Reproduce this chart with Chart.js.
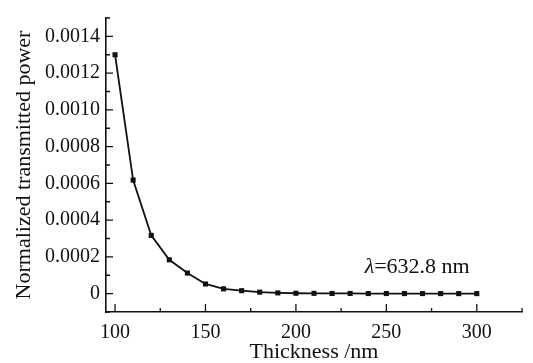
<!DOCTYPE html>
<html>
<head>
<meta charset="utf-8">
<script src="https://cdn.jsdelivr.net/npm/chart.js@4"></script>
<style>
  html, body { margin: 0; padding: 0; background: #fff; }
  #wrap { width: 533px; height: 363px; }
</style>
</head>
<body>
<div id="wrap"><canvas id="grafico"></canvas></div>
<script>
// datos
const espesor = [100, 110, 120, 130, 140, 150, 160, 170, 180, 190, 200, 210, 220, 230, 240, 250, 260, 270, 280, 290, 300]
const potencia = [0.00130, 0.000618, 0.000317, 0.000184, 0.000112, 0.0000525, 0.000026, 0.000016, 0.000008, 0.000004, 0.000002,
   0.0000015, 0.000001, 0.000001, 0.0000005, 0.0000005, 0.0000003, 0.0000002, 0.0000002, 0.0000001, 0.0000001]
const xTicks = [100, 150, 200, 250, 300]
const xMinor = [125, 175, 225, 275, 325]
const yTicks = [0, 0.0002, 0.0004, 0.0006, 0.0008, 0.0010, 0.0012, 0.0014]
const yMinor = [-0.0001, 0.0001, 0.0003, 0.0005, 0.0007, 0.0009, 0.0011, 0.0013, 0.0015]
const nota = { texto: '=632.8 nm', x: 238, y: 0.00011 }

const fuente = 'Liberation Serif'

// ticks hacia adentro y la nota lambda
const marcasPlugin = {
   id: 'marcas',
   afterDraw(chart) {
      const ctx = chart.ctx
      const xs = chart.scales.x
      const ys = chart.scales.y
      const area = chart.chartArea
      ctx.save()
      ctx.strokeStyle = '#111'
      ctx.lineWidth = 1.3
      ctx.beginPath()
      xTicks.forEach(v => { const p = xs.getPixelForValue(v); ctx.moveTo(p, area.bottom); ctx.lineTo(p, area.bottom - 8) })
      xMinor.forEach(v => { const p = xs.getPixelForValue(v); ctx.moveTo(p, area.bottom); ctx.lineTo(p, area.bottom - 4) })
      yTicks.forEach(v => { const p = ys.getPixelForValue(v); ctx.moveTo(area.left, p); ctx.lineTo(area.left + 7, p) })
      yMinor.forEach(v => { const p = ys.getPixelForValue(v); ctx.moveTo(area.left, p); ctx.lineTo(area.left + 4, p) })
      ctx.stroke()

      const px = xs.getPixelForValue(nota.x)
      const py = ys.getPixelForValue(nota.y)
      ctx.fillStyle = '#111'
      ctx.textBaseline = 'alphabetic'
      ctx.font = 'italic 22px "' + fuente + '"'
      ctx.fillText('λ', px, py)
      const w = ctx.measureText('λ').width
      ctx.font = '22px "' + fuente + '"'
      ctx.fillText(nota.texto, px + w, py)
      ctx.restore()
   }
}

const ctx = document.getElementById('grafico').getContext('2d')
const myChart = new Chart(ctx, {
   type: 'line',
   data: {
      labels: espesor,
      datasets: [{
         data: espesor.map((x, i) => ({ x: x, y: potencia[i] })),
         borderColor: '#111',
         backgroundColor: '#111',
         borderWidth: 1.8,
         pointStyle: 'rect',
         pointRadius: 3.6,
         pointBorderWidth: 0,
         tension: 0
      }]
   },
   options: {
      responsive: true,
      maintainAspectRatio: false,
      animation: false,
      layout: { padding: { top: 6, right: 11, left: 0, bottom: 0 } },
      plugins: { legend: { display: false }, tooltip: { enabled: false } },
      scales: {
         x: {
            type: 'linear',
            min: 95,
            max: 325,
            afterBuildTicks: (scale) => { scale.ticks = xTicks.map(v => ({ value: v })) },
            afterFit: (scale) => { scale.height = 51 },
            grid: { display: false, drawTicks: false },
            border: { display: true, color: '#111', width: 1.6 },
            ticks: { color: '#111', padding: 9, font: { family: fuente, size: 20 } },
            title: { display: true, text: 'Thickness /nm', color: '#111', padding: { top: 0, bottom: 0 }, font: { family: fuente, size: 22, lineHeight: 1 } }
         },
         y: {
            min: -0.0001,
            max: 0.0015,
            afterBuildTicks: (scale) => { scale.ticks = yTicks.map(v => ({ value: v })) },
            afterFit: (scale) => { scale.width = 106 },
            grid: { display: false, drawTicks: false },
            border: { display: true, color: '#111', width: 1.6 },
            ticks: {
               color: '#111', padding: 6, font: { family: fuente, size: 20 },
               callback: (v) => Math.abs(v) < 1e-9 ? '0' : v.toFixed(4)
            },
            title: { display: true, text: 'Normalized transmitted power', color: '#111', padding: { top: 13, bottom: 0 }, font: { family: fuente, size: 22, lineHeight: 1 } }
         }
      }
   },
   plugins: [marcasPlugin]
})
</script>
</body>
</html>
